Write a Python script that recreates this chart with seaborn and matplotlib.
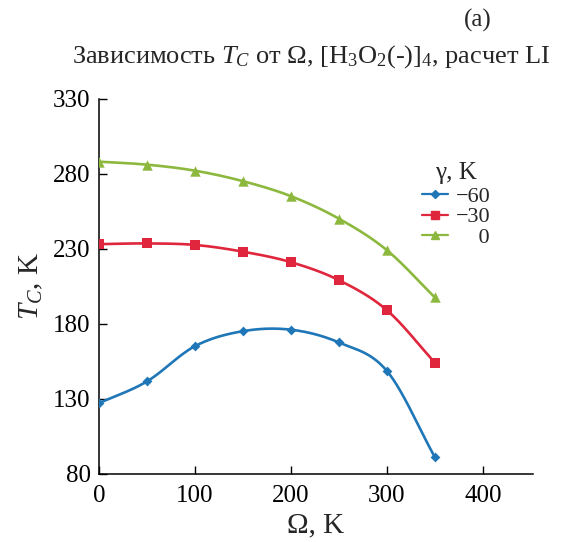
import numpy as np
import seaborn as sns
import matplotlib.pyplot as plt

# Omega values, K
omega = [0, 50, 100, 150, 200, 250, 300, 350]

# T_C values for each gamma (K)
tc_m60 = [127, 141.5, 165, 175, 176, 167.5, 148.5, 91]
tc_m30 = [233, 233.5, 232.5, 228, 221, 209, 189, 154]
tc_0 = [288, 286, 282, 275, 265, 250, 229, 197.5]

gamma_labels = ["\u221260", "\u221230", "    0"]
colors = ["#1f77b8", "#e0263c", "#8db83e"]
markers = ["D", "s", "^"]
msizes = [5, 7.5, 7.5]


def smooth(x, y, n=30):
    # Catmull-Rom curve through the points (like a smoothed line in Excel)
    x = np.asarray(x, float)
    y = np.asarray(y, float)
    px = np.concatenate([[2 * x[0] - x[1]], x, [2 * x[-1] - x[-2]]])
    py = np.concatenate([[2 * y[0] - y[1]], y, [2 * y[-1] - y[-2]]])
    xs, ys = [], []
    t = np.linspace(0, 1, n)
    for i in range(1, len(px) - 2):
        for p, out in ((px, xs), (py, ys)):
            p0, p1, p2, p3 = p[i - 1], p[i], p[i + 1], p[i + 2]
            out.extend(0.5 * ((2 * p1) + (-p0 + p2) * t
                              + (2 * p0 - 5 * p1 + 4 * p2 - p3) * t ** 2
                              + (-p0 + 3 * p1 - 3 * p2 + p3) * t ** 3))
    return np.array(xs), np.array(ys)


sns.set_theme(style="ticks")
plt.rcParams["font.family"] = ["Liberation Serif", "DejaVu Serif"]
plt.rcParams["mathtext.fontset"] = "custom"
plt.rcParams["mathtext.rm"] = "Liberation Serif"
plt.rcParams["mathtext.it"] = "Liberation Serif:italic"

fig = plt.figure(figsize=(5.62, 5.42), dpi=100)
ax = fig.add_axes([0.176, 0.126, 0.772, 0.692])

for ys, lab, c, m, ms in zip([tc_m60, tc_m30, tc_0], gamma_labels, colors, markers, msizes):
    sx, sy = smooth(omega, ys)
    ax.plot(sx, sy, color=c, lw=1.9)
    sns.scatterplot(x=omega, y=ys, ax=ax, color=c, marker=m, s=ms ** 2,
                    edgecolor=c, linewidth=0, zorder=3)
    ax.plot([], [], color=c, marker=m, ms=ms * 0.8, lw=1.6, label=lab)

ax.set_xlim(0, 452)
ax.set_ylim(80, 330)
ax.set_xticks([0, 100, 200, 300, 400])
ax.set_yticks([80, 130, 180, 230, 280, 330])
ax.tick_params(direction="in", length=6, width=1, labelsize=18, colors="black", pad=6)
ax.tick_params(axis="x", pad=8)
sns.despine(ax=ax)
for s in ["left", "bottom"]:
    ax.spines[s].set_linewidth(1.1)
    ax.spines[s].set_color("black")

ax.set_xlabel("\u03a9, K", fontsize=21, labelpad=4)
ax.set_ylabel("$T_C$, K", fontsize=21, labelpad=6)

leg = ax.legend(title="\u03b3, K", loc="upper left", bbox_to_anchor=(0.718, 0.862),
                frameon=False, fontsize=16, title_fontsize=18,
                handlelength=1.2, handletextpad=0.35, labelspacing=0.0,
                borderpad=0.0)
leg._legend_box.align = "center"
leg._legend_box.sep = 2

fig.text(0.553, 0.895,
         "Зависимость $T_C$ от \u03a9, [H$_3$O$_2$(-)]$_4$, расчет LI",
         ha="center", va="center", fontsize=19)
fig.text(0.85, 0.962, "(a)", ha="center", va="center", fontsize=18)

fig.savefig("out.png", dpi=100)
